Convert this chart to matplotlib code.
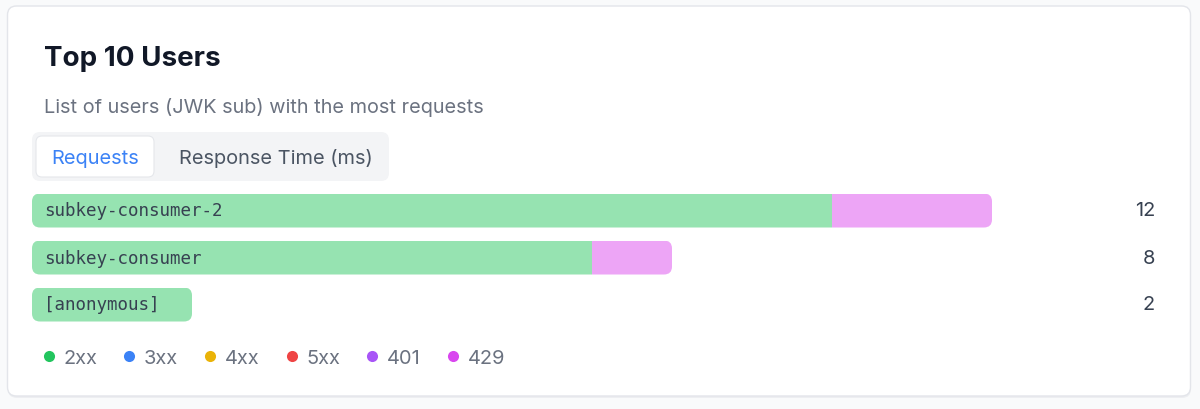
import numpy as np
import matplotlib.pyplot as plt
from matplotlib.patches import FancyBboxPatch
from matplotlib.lines import Line2D
from matplotlib import transforms

# data
users = ['subkey-consumer-2', 'subkey-consumer', '[anonymous]']
status_classes = ['2xx', '3xx', '4xx', '5xx', '401', '429']
counts = {
    '2xx': [10, 7, 2],
    '3xx': [0, 0, 0],
    '4xx': [0, 0, 0],
    '5xx': [0, 0, 0],
    '401': [0, 0, 0],
    '429': [2, 1, 0],
}
dot_colors = ['#22c55e', '#3b82f6', '#eab308', '#ef4444', '#a855f7', '#d946ef']
bar_colors = ['#96e3b1', '#9dc1fb', '#f5d983', '#f7a1a1', '#d3aafb', '#eda5f6']

W, H = 1200, 410
fig = plt.figure(figsize=(W / 100, H / 100), dpi=100, facecolor='#f9fafb')

# background layer in pixel coordinates
bg = fig.add_axes([0, 0, 1, 1])
bg.set_xlim(0, W)
bg.set_ylim(H, 0)
bg.axis('off')

shadow = FancyBboxPatch((8, 9), 1183, 390, boxstyle='round,pad=0,rounding_size=9',
                        fc='#e5e7eb', ec='none', alpha=0.6)
card = FancyBboxPatch((7.5, 7), 1183, 390, boxstyle='round,pad=0,rounding_size=9',
                      fc='white', ec='#e3e5ea', lw=1)
bg.add_patch(shadow)
bg.add_patch(card)

ui = 'Inter'
bg.text(43.5, 59, 'Top 10 Users', fontsize=20, fontweight='bold', family=ui,
        color='#111827', va='center')
bg.text(44, 107.5, 'List of users (JWK sub) with the most requests', fontsize=14.3,
        family=ui, color='#6b7280', va='center')

# tab switcher
bg.add_patch(FancyBboxPatch((32, 133), 357, 49, boxstyle='round,pad=0,rounding_size=8',
                            fc='#f3f4f6', ec='none'))
bg.add_patch(FancyBboxPatch((36, 137), 118, 41, boxstyle='round,pad=0,rounding_size=6',
                            fc='white', ec='#e5e7eb', lw=0.8))
bg.text(95, 159, 'Requests', fontsize=14.4, family=ui, color='#3b82f6',
        ha='center', va='center')
bg.text(276, 159, 'Response Time (ms)', fontsize=14.4, family=ui, color='#4b5563',
        ha='center', va='center')

# bars: x from 32px to 992px, rows centred at 211/258/305px
n = len(users)
row_px = 47
top_px = 211.5 - row_px / 2
ax = fig.add_axes([32 / W, 1 - (top_px + n * row_px) / H, 960 / W, n * row_px / H])
ax.axis('off')

totals = np.sum([counts[c] for c in status_classes], axis=0)
ax.set_xlim(0, totals.max())
ax.set_ylim(n - 0.5, -0.5)

y = np.arange(n)
bar_h = 34 / row_px
left = np.zeros(n)
segments = []
for c, col in zip(status_classes, bar_colors):
    vals = np.array(counts[c], dtype=float)
    bars = ax.barh(y, vals, left=left, height=bar_h, color=col, lw=0)
    segments.append(bars)
    left += vals

# round the outer ends of each stacked bar
px_per_x = 960 / totals.max()
r = 8 / px_per_x
aspect = (1 / row_px) / (1 / px_per_x)
for i in range(n):
    clip = FancyBboxPatch((0, y[i] - bar_h / 2), totals[i], bar_h,
                          boxstyle=f'round,pad=0,rounding_size={r}',
                          mutation_aspect=aspect, transform=ax.transData)
    for bars in segments:
        bars[i].set_clip_path(clip)

tr = transforms.blended_transform_factory(ax.transAxes, ax.transData)
for i, u in enumerate(users):
    ax.text(12 / 960, y[i], u, transform=tr, fontsize=12.6, family='DejaVu Sans Mono',
            color='#374151', va='center')
    ax.text((1155 - 32) / 960, y[i], str(totals[i]), transform=tr, fontsize=14.4,
            family=ui, color='#374151', va='center', ha='right', clip_on=False)

handles = [Line2D([], [], ls='none', marker='o', ms=8, mfc=c, mec='none')
           for c in dot_colors]
leg = fig.legend(handles, status_classes, loc='center left', bbox_to_anchor=(42 / W, 1 - 359 / H),
                 ncol=len(status_classes), frameon=False, handlelength=0.65,
                 handletextpad=0.42, columnspacing=1.27, borderpad=0, borderaxespad=0,
                 prop={'family': ui, 'size': 14.4})
for t in leg.get_texts():
    t.set_color('#6b7280')

fig.savefig('out.png', dpi=100, facecolor=fig.get_facecolor())
